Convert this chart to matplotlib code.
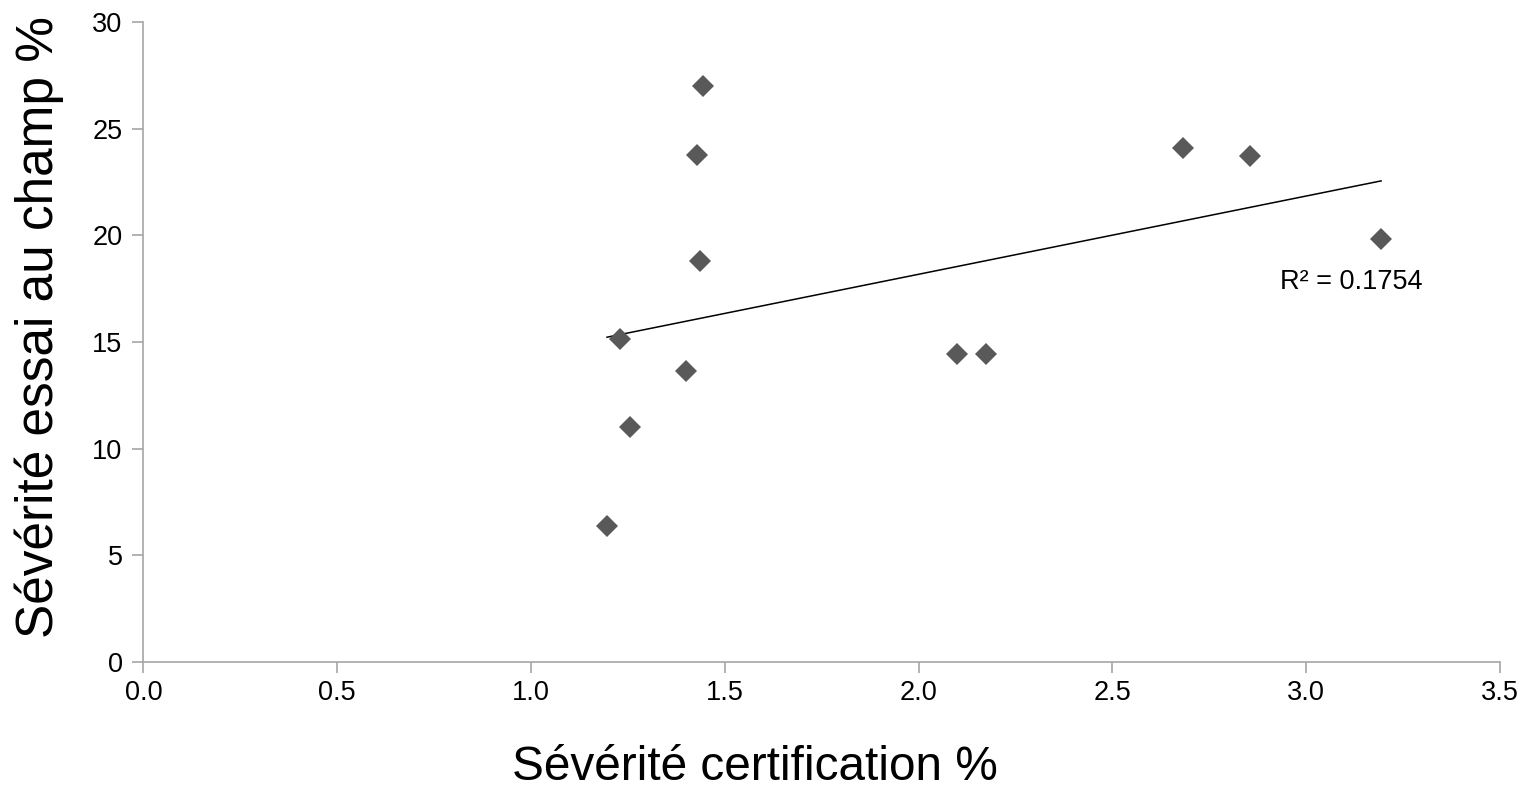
import numpy as np
import matplotlib.pyplot as plt

plt.rcParams['font.family'] = ['Liberation Sans', 'DejaVu Sans']

# values
certification = [1.196, 1.256, 1.229, 1.401, 1.437, 1.427, 1.444, 2.100, 2.173, 2.683, 2.855, 3.193]
essai_champ = [6.36, 11.02, 15.12, 13.63, 18.79, 23.77, 27.02, 14.43, 14.43, 24.08, 23.73, 19.83]
r2_label = 'R² = 0.1754'

x = np.array(certification)
y = np.array(essai_champ)
slope, intercept = np.polyfit(x, y, 1)
xt = np.array([x.min(), x.max()])

fig = plt.figure(figsize=(15.26, 7.88), dpi=100)
ax = fig.add_axes([0.094, 0.160, 0.889, 0.812])

ax.plot(xt, slope * xt + intercept, color='black', linewidth=1.1, zorder=2)
ax.plot(x, y, linestyle='none', marker='D', markersize=11.5, color='#595959',
        markeredgewidth=0, zorder=3)
ax.text(2.932, 17.8, r2_label, fontsize=19.5, va='center', ha='left')

ax.set_xlim(0, 3.5)
ax.set_ylim(0, 30)
ax.set_xticks(np.arange(0, 3.51, 0.5))
ax.set_xticklabels([f'{v:.1f}' for v in np.arange(0, 3.51, 0.5)])
ax.set_yticks(range(0, 31, 5))

for side in ['top', 'right']:
    ax.spines[side].set_visible(False)
for side in ['left', 'bottom']:
    ax.spines[side].set_color('#a6a6a6')
    ax.spines[side].set_linewidth(1.2)
ax.tick_params(axis='both', direction='out', length=8, width=1.2, color='#a6a6a6',
               labelsize=19.5)
ax.tick_params(axis='y', pad=7)
ax.tick_params(axis='x', pad=5)

ax.set_xlabel('Sévérité certification %', fontsize=34.4, va='baseline')
ax.xaxis.set_label_coords(0.451, -0.185)
ax.set_ylabel('Sévérité essai au champ %', fontsize=37, va='baseline')
ax.yaxis.set_label_coords(-0.0667, 0.523)

fig.savefig('out.png', dpi=100)
